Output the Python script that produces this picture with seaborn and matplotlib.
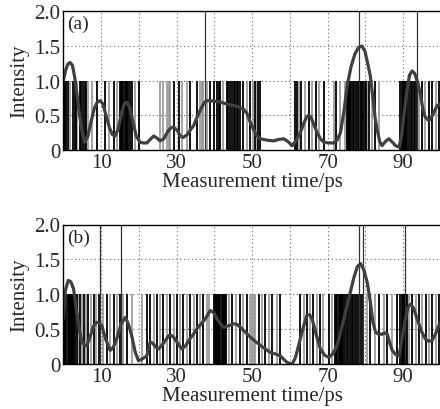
import numpy as np
import pandas as pd
import seaborn as sns
import matplotlib
matplotlib.use('Agg')
import matplotlib.pyplot as plt

a_t = [0, 0.6, 1.2, 1.8, 2.4, 3.0, 3.6, 4.3, 5.0, 5.7, 6.5, 7.3, 8.2, 9.0, 9.7, 10.4,
       11.2, 12.2, 13.0, 13.7, 14.5, 15.5, 16.2, 16.8, 17.5, 18.4, 19.3, 20.3, 21.2,
       22.1, 23.0, 23.9, 24.8, 25.6, 26.6, 27.6, 28.5, 29.2, 30.2, 31.0, 31.8, 32.8,
       33.8, 34.5, 35.5, 36.5, 37.3, 38.0, 39.0, 40.3, 41.6, 43.4, 45.1, 46.5, 47.7,
       48.7, 49.5, 50.5, 51.3, 52.2, 54.0, 55.7, 57.0, 58.4, 59.5, 60.6, 61.7, 62.8,
       63.8, 64.5, 65.0, 65.6, 66.4, 67.2, 68.1, 69.0, 70.3, 71.6, 72.5, 73.4, 74.3,
       75.2, 76.2, 77.2, 78.2, 79.1, 79.9, 80.6, 81.3, 82.0, 82.6, 83.1, 83.8, 84.4,
       85.3, 86.2, 87.0, 88.0, 88.9, 89.6, 90.2, 91.0, 91.7, 92.4, 93.1, 93.8, 94.6,
       95.2, 95.8, 96.8, 97.8, 99.0, 100]
a_int = [1.0, 1.15, 1.24, 1.26, 1.22, 1.05, 0.8, 0.5, 0.25, 0.11, 0.2, 0.4, 0.6, 0.69,
         0.71, 0.67, 0.52, 0.32, 0.22, 0.2, 0.3, 0.55, 0.67, 0.69, 0.62, 0.42, 0.2, 0.11,
         0.1, 0.1, 0.15, 0.2, 0.17, 0.13, 0.16, 0.26, 0.32, 0.33, 0.28, 0.2, 0.18, 0.22,
         0.3, 0.35, 0.48, 0.6, 0.68, 0.71, 0.71, 0.7, 0.69, 0.66, 0.64, 0.62, 0.59,
         0.52, 0.4, 0.28, 0.2, 0.16, 0.14, 0.13, 0.15, 0.16, 0.12, 0.06, 0.14, 0.25,
         0.4, 0.48, 0.5, 0.47, 0.36, 0.25, 0.16, 0.11, 0.1, 0.1, 0.14, 0.25, 0.55,
         0.93, 1.2, 1.38, 1.48, 1.5, 1.42, 1.25, 1.07, 0.75, 0.45, 0.3, 0.12, 0.06,
         0.12, 0.16, 0.12, 0.06, 0.04, 0.2, 0.5, 0.85, 1.08, 1.14, 1.1, 0.98, 0.8,
         0.6, 0.48, 0.42, 0.5, 0.64, 0.66]

# curve (b)
b_t = [0, 0.5, 1.3, 2.0, 2.7, 3.4, 4.2, 4.9, 5.6, 6.2, 7.0, 8.0, 8.8, 9.5, 10.2, 11.2,
       12.4, 13.2, 14.1, 15.3, 16.4, 17.2, 18.1, 19.0, 19.9, 21.0, 22.1, 23.0, 23.7,
       24.4, 25.2, 26.5, 27.9, 28.6, 29.2, 30.3, 31.4, 32.3, 33.2, 34.3, 35.4, 36.5,
       37.6, 38.9, 39.8, 40.7, 41.6, 42.4, 43.7, 45.1, 46.0, 46.9, 48.2, 49.5, 50.8,
       52.2, 53.5, 54.8, 56.1, 57.5, 58.4, 59.2, 60.6, 61.5, 62.3, 63.4, 64.5, 65.2,
       65.9, 67.0, 68.1, 69.2, 70.3, 71.4, 72.5, 73.4, 74.3, 75.2, 76.0, 77.0, 77.9,
       78.7, 79.6, 80.5, 81.3, 82.0, 82.7, 83.5, 84.4, 85.1, 85.8, 86.5, 87.1, 88.0,
       88.9, 89.8, 90.6, 91.3, 92.0, 92.8, 93.7, 94.8, 95.9, 96.8, 97.7, 98.6, 99.5, 100]
b_int = [0.65, 1.05, 1.2, 1.18, 1.08, 0.8, 0.5, 0.32, 0.27, 0.27, 0.38, 0.55, 0.6, 0.6,
         0.55, 0.36, 0.2, 0.24, 0.36, 0.58, 0.67, 0.58, 0.41, 0.18, 0.05, 0.08, 0.12,
         0.32, 0.3, 0.25, 0.22, 0.3, 0.41, 0.41, 0.39, 0.3, 0.22, 0.26, 0.34, 0.42, 0.51,
         0.58, 0.65, 0.77, 0.74, 0.65, 0.58, 0.53, 0.55, 0.58, 0.57, 0.53, 0.46, 0.39,
         0.33, 0.27, 0.22, 0.17, 0.15, 0.12, 0.07, 0.03, 0.0, 0.1, 0.27, 0.5, 0.7, 0.71,
         0.65, 0.42, 0.22, 0.13, 0.1, 0.15, 0.27, 0.45, 0.65, 0.85, 1.03, 1.25, 1.4,
         1.44, 1.35, 1.17, 0.9, 0.6, 0.46, 0.43, 0.43, 0.45, 0.43, 0.3, 0.2, 0.14,
         0.12, 0.4, 0.65, 0.82, 0.86, 0.8, 0.65, 0.48, 0.36, 0.33, 0.34, 0.44, 0.56, 0.6]

# pulse positions (height 1), dark and light ones, plus full-height markers
a_black = [0.2, 0.5, 0.8, 1.1, 2.6, 3.0, 3.4, 4.4, 4.8, 5.2, 5.6, 6.0, 9.0, 11.0, 13.3,
           15.0, 15.3, 15.6, 15.9, 16.2, 16.5, 16.8, 17.2, 17.6, 18.1, 20.0, 29.2, 30.5,
           33.6, 35.4, 38.9, 40.0, 40.7, 41.1, 41.6, 43.3, 43.7, 44.1, 44.6, 45.1, 45.5,
           45.9, 46.3, 46.7, 47.7, 49.5, 50.8, 51.5, 52.0, 61.4, 62.0, 63.0, 65.0, 66.8,
           69.0, 72.2, 75.0, 75.3, 75.6, 75.9, 76.2, 76.6, 77.0, 77.5, 78.0, 78.3, 78.6,
           78.9, 79.2, 79.5, 79.8, 80.2, 81.0, 82.6, 89.3, 89.6, 89.9, 90.2, 90.5, 90.8,
           91.1, 91.5, 92.0, 92.4, 92.8, 93.2, 93.7, 95.0, 96.8, 97.7, 99.5]
a_gray = [1.8, 3.7, 6.6, 7.5, 12.0, 14.2, 19.0, 25.6, 26.5, 27.4, 27.9, 28.3, 31.4, 32.7,
          36.3, 36.7, 37.1, 38.0, 42.4, 48.6, 50.2, 51.1, 62.3, 64.1, 65.9, 67.7, 71.6,
          73.4, 74.7, 76.8, 77.8, 80.5, 81.8, 83.5, 94.2, 95.9, 98.6]
a_tall = [37.5, 78.2, 93.7]

b_black = [0.2, 0.5, 0.8, 1.1, 1.4, 1.7, 2.0, 2.3, 2.6, 2.9, 3.2, 3.5, 4.4, 5.5, 6.6, 8.0,
           9.5, 11.5, 13.3, 15.0, 16.8, 22.1, 23.0, 24.8, 26.5, 28.3, 30.0, 31.8, 33.6,
           35.4, 37.1, 39.8, 40.1, 40.4, 40.7, 41.0, 41.3, 41.6, 41.9, 42.2, 42.5, 42.8,
           43.1, 44.6, 46.9, 48.6, 51.7, 53.5, 55.3, 57.3, 62.8, 64.5, 66.2, 68.0, 70.3,
           72.0, 72.3, 72.6, 72.9, 73.2, 73.5, 73.8, 74.1, 74.6, 75.0, 75.4, 75.8, 76.4,
           76.8, 77.3, 77.8, 78.4, 78.8, 79.3, 81.3, 83.6, 85.8, 88.4, 89.3, 89.6, 89.9,
           90.2, 90.5, 90.8, 91.0, 92.4, 94.2, 96.0, 97.7, 99.5]
b_gray = [3.8, 5.0, 6.0, 7.3, 8.7, 10.6, 12.4, 14.2, 15.9, 18.1, 20.8, 23.9, 25.6, 27.4,
          29.2, 30.9, 32.7, 34.5, 36.3, 38.0, 38.6, 43.8, 45.6, 47.7, 49.5, 50.0, 50.5,
          50.8, 52.6, 54.4, 56.6, 63.7, 65.3, 67.1, 68.9, 71.2, 74.3, 76.1, 77.6, 80.5,
          82.5, 84.9, 87.1, 91.6, 93.3, 95.1, 96.9, 98.6]
b_tall = [9.6, 15.4, 78.3, 79.5, 90.6]

x_ticks = [10, 20, 30, 40, 50, 60, 70, 80, 90]
x_labels = ['10', '', '30', '', '50', '', '70', '', '90']
y_ticks = [0, 0.5, 1.0, 1.5, 2.0]
y_labels = ['0', '0.5', '1.0', '1.5', '2.0']

sns.set_style('white')
plt.rcParams['font.family'] = ['Liberation Serif', 'DejaVu Serif']

fig = plt.figure(figsize=(4.4, 4.1), dpi=100)
ax_a = fig.add_axes([0.144, 0.632, 0.858, 0.338])
ax_b = fig.add_axes([0.144, 0.109, 0.858, 0.341])

panels = [(ax_a, '(a)', a_t, a_int, a_black, a_gray, a_tall),
          (ax_b, '(b)', b_t, b_int, b_black, b_gray, b_tall)]

for ax, tag, t, inten, blk, gry, tall in panels:
    ax.grid(True, color='#666666', linestyle=(0, (1, 2.5)), linewidth=0.8)
    ax.set_axisbelow(True)
    ax.vlines(gry, 0, 1, color='#8c8c8c', linewidth=1.1)
    ax.vlines(blk, 0, 1, color='black', linewidth=1.3)
    ax.vlines(tall, 0, 2, color='#333333', linewidth=0.9)
    df = pd.DataFrame({'t': t, 'I': inten})
    sns.lineplot(data=df, x='t', y='I', ax=ax, color='#404040', linewidth=2.3)
    ax.set_xlim(0, 100)
    ax.set_ylim(0, 2)
    ax.set_xticks(x_ticks)
    ax.set_xticklabels(x_labels)
    ax.set_yticks(y_ticks)
    ax.set_yticklabels(y_labels)
    ax.tick_params(direction='in', length=3, labelsize=15, pad=2, color='black')
    ax.set_xlabel('Measurement time/ps', fontsize=15, labelpad=0)
    ax.set_ylabel('Intensity', fontsize=15, labelpad=4)
    ax.text(0.9, 1.82, tag, fontsize=14, va='center', ha='left')
    for s in ax.spines.values():
        s.set_color('black')
        s.set_linewidth(1.0)

fig.savefig('out.png', dpi=100)
